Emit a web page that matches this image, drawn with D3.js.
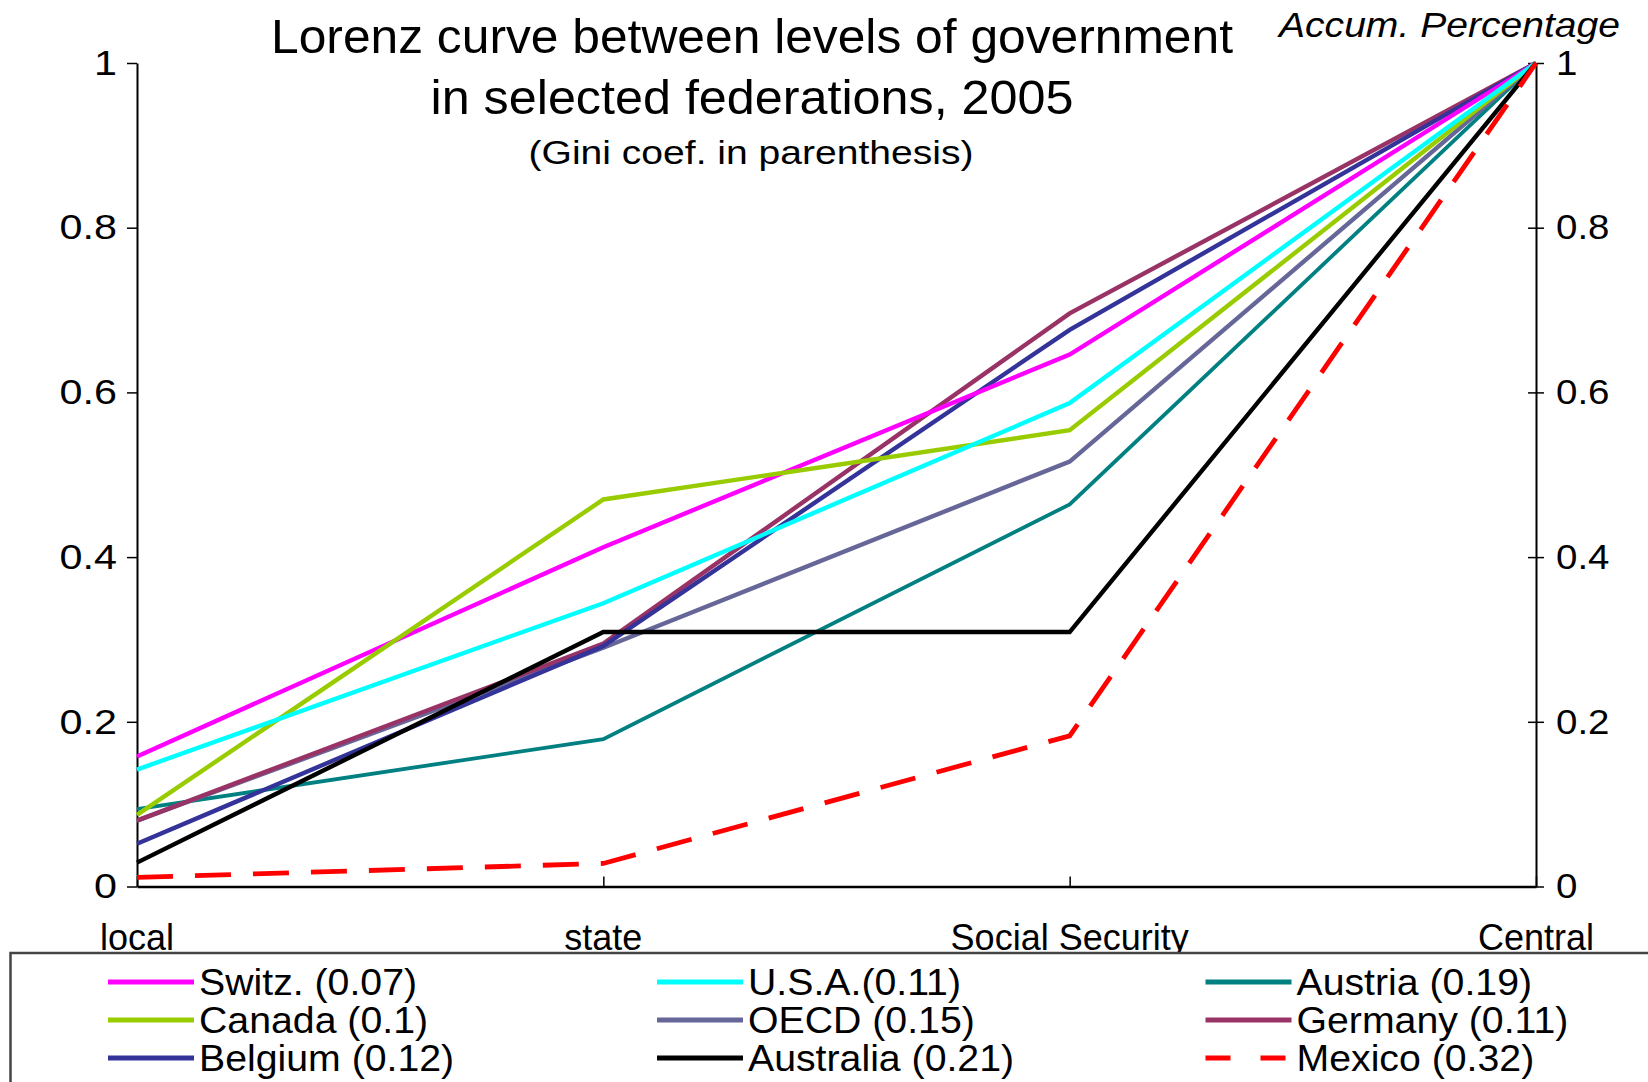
<!DOCTYPE html>
<html>
<head>
<meta charset="utf-8">
<script src="https://cdn.jsdelivr.net/npm/d3@7"></script>
<style>
  html, body { margin: 0; padding: 0; background: #fff; }
  svg { display: block; font-family: "Liberation Sans", Arial, sans-serif; }
</style>
</head>
<body>
<svg id="chart" width="1648" height="1082"></svg>
<script>
// ---------- data ----------
const categories = ["local", "state", "Social Security", "Central"];
const yTicks = [0, 0.2, 0.4, 0.6, 0.8, 1];
const yTickLabels = ["0", "0.2", "0.4", "0.6", "0.8", "1"];

const seriesNames = ["Switz. (0.07)", "U.S.A.(0.11)", "Austria (0.19)",
                     "Canada (0.1)", "OECD (0.15)", "Germany (0.11)",
                     "Belgium (0.12)", "Australia (0.21)", "Mexico (0.32)"];
const seriesColors = ["#FF00FF", "#00FFFF", "#008080",
                      "#99CC00", "#666699", "#993366",
                      "#333399", "#000000", "#FF0000"];

const switz     = [0.158, 0.412, 0.646, 1];
const usa       = [0.142, 0.344, 0.587, 1];
const austria   = [0.094, 0.179, 0.464, 1];
const canada    = [0.087, 0.470, 0.554, 1];
const oecd      = [0.080, 0.290, 0.516, 1];
const germany   = [0.080, 0.295, 0.696, 1];
const belgium   = [0.052, 0.292, 0.676, 1];
const australia = [0.029, 0.309, 0.309, 1];
const mexico    = [0.011, 0.028, 0.183, 1];

const seriesValues = [switz, usa, austria, canada, oecd, germany, belgium, australia, mexico];
// drawing order (later = on top)
const drawOrder = [2, 4, 5, 6, 0, 3, 1, 7, 8];

// ---------- layout ----------
const svg = d3.select("#chart");
const mLeft = 137, mRight = 1536, mTop = 63, mBottom = 886.5;

const x = d3.scalePoint().domain(categories).range([mLeft, mRight]).padding(0);
const y = d3.scaleLinear().domain([0, 1]).range([mBottom, mTop]);

function stretch(sel, f) {
  sel.each(function () {
    const w = this.getComputedTextLength();
    d3.select(this).attr("textLength", w * f).attr("lengthAdjust", "spacingAndGlyphs");
  });
}

// title
svg.append("text").attr("x", 752).attr("y", 53).attr("text-anchor", "middle")
  .attr("font-size", 48).attr("textLength", 962).attr("lengthAdjust", "spacingAndGlyphs")
  .text("Lorenz curve between levels of government");
svg.append("text").attr("x", 752).attr("y", 114).attr("text-anchor", "middle")
  .attr("font-size", 48).attr("textLength", 643).attr("lengthAdjust", "spacingAndGlyphs")
  .text("in selected federations, 2005");
svg.append("text").attr("x", 751).attr("y", 164).attr("text-anchor", "middle")
  .attr("font-size", 34).attr("textLength", 445).attr("lengthAdjust", "spacingAndGlyphs")
  .text("(Gini coef. in parenthesis)");
svg.append("text").attr("x", 1279).attr("y", 37).attr("text-anchor", "start")
  .attr("font-size", 35).attr("font-style", "italic").attr("textLength", 341).attr("lengthAdjust", "spacingAndGlyphs")
  .text("Accum. Percentage");

// left axis
const yAxisL = d3.axisLeft(y).tickValues(yTicks)
  .tickFormat((d, i) => yTickLabels[i]).tickSizeInner(10).tickSizeOuter(0).tickPadding(10);
const gL = svg.append("g").attr("transform", `translate(${mLeft},0)`).call(yAxisL);
gL.select(".domain").attr("stroke", "#000").attr("stroke-width", 2);
gL.selectAll(".tick line").attr("stroke", "#000").attr("stroke-width", 1.5);
gL.selectAll(".tick text").attr("font-size", 35).attr("fill", "#000")
  .attr("font-family", "'Liberation Sans', Arial, sans-serif")
  .call(stretch, 1.18);

// right axis
const yAxisR = d3.axisRight(y).tickValues(yTicks)
  .tickFormat((d, i) => yTickLabels[i]).tickSizeInner(8).tickSizeOuter(0).tickPadding(12);
const gR = svg.append("g").attr("transform", `translate(${mRight},0)`).call(yAxisR);
gR.select(".domain").attr("stroke", "#000").attr("stroke-width", 2);
gR.selectAll(".tick line").attr("x1", -8).attr("stroke", "#000").attr("stroke-width", 1.5);
gR.selectAll(".tick text").attr("font-size", 35).attr("fill", "#000")
  .attr("font-family", "'Liberation Sans', Arial, sans-serif")
  .call(stretch, 1.1);

// bottom axis
const xAxis = d3.axisBottom(x).tickSizeInner(-10).tickSizeOuter(0).tickFormat("");
const gB = svg.append("g").attr("transform", `translate(0,${mBottom})`).call(xAxis);
gB.select(".domain").attr("stroke", "#000").attr("stroke-width", 2.5);
gB.selectAll(".tick line").attr("stroke", "#000").attr("stroke-width", 1.5);

// category labels
svg.append("g").selectAll("text").data(categories).join("text")
  .attr("x", d => x(d)).attr("y", 950).attr("text-anchor", "middle")
  .attr("font-size", 36).attr("fill", "#000")
  .text(d => d);

// lines
const line = d3.line().x((d, i) => x(categories[i])).y(d => y(d));
const gLines = svg.append("g");
drawOrder.forEach(k => {
  const isMex = seriesNames[k].startsWith("Mexico");
  gLines.append("path")
    .datum(seriesValues[k])
    .attr("d", line)
    .attr("fill", "none")
    .attr("stroke", seriesColors[k])
    .attr("stroke-width", isMex ? 4.8 : (k === 2 ? 3.8 : 4.4))
    .attr("stroke-linejoin", "miter")
    .attr("stroke-dasharray", isMex ? "36,22" : null);
});

// legend
svg.append("rect").attr("x", 10.5).attr("y", 953).attr("width", 1700).attr("height", 200)
  .attr("fill", "#fff").attr("stroke", "#444").attr("stroke-width", 2.5);
const colX = [108, 657, 1205.5];
const rowY = [982, 1020, 1058];
const gLeg = svg.append("g");
seriesNames.forEach((name, k) => {
  const c = k % 3, r = Math.floor(k / 3);
  const isMex = name.startsWith("Mexico");
  gLeg.append("line")
    .attr("x1", colX[c]).attr("x2", colX[c] + 86)
    .attr("y1", rowY[r]).attr("y2", rowY[r])
    .attr("stroke", seriesColors[k]).attr("stroke-width", 5)
    .attr("stroke-dasharray", isMex ? "25,30" : null);
  gLeg.append("text")
    .attr("x", colX[c] + 91).attr("y", rowY[r] + 13)
    .attr("font-size", 36).attr("fill", "#000")
    .text(name)
    .call(stretch, 1.09);
});
</script>
</body>
</html>
